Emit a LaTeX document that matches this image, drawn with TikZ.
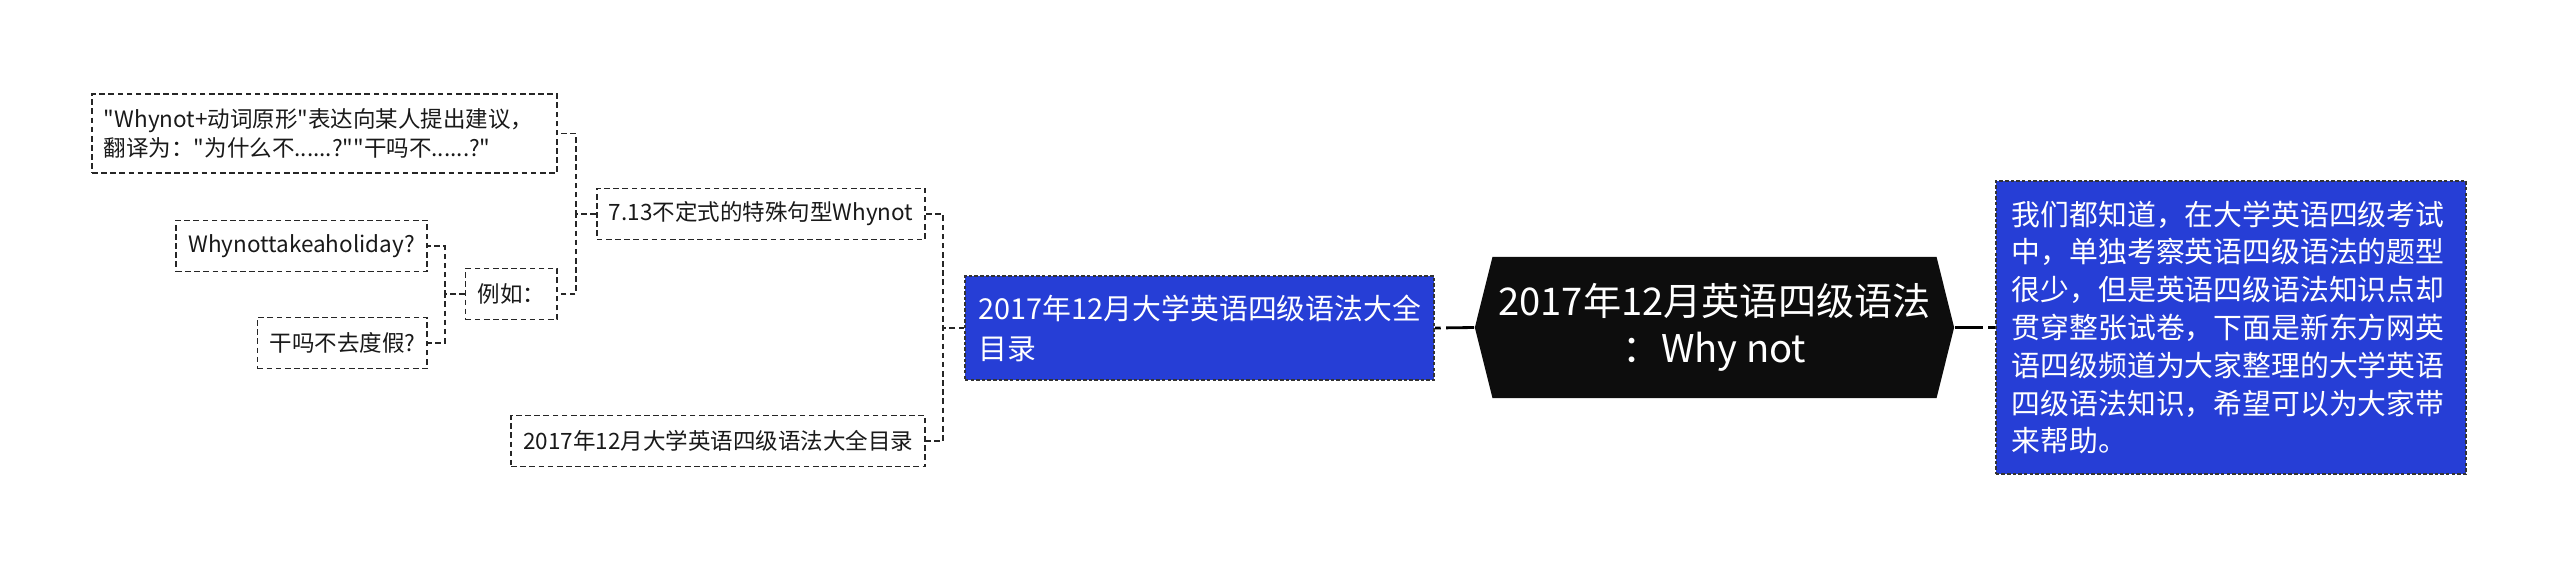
\documentclass[tikz,border=0pt]{standalone}
\usepackage{fontspec}
\newfontfamily\cjk{Noto Sans CJK SC}
\usetikzlibrary{shapes.symbols}
\definecolor{topicblue}{RGB}{38,62,214}
\definecolor{rootblack}{RGB}{13,13,13}

\begin{document}
\begin{tikzpicture}[x=0.01cm, y=-0.01cm,
    leaf/.style={draw=black!85, line width=0.45pt, dash pattern=on 1.6pt off 1pt,
      font=\cjk\fontsize{6.4}{8.25}\selectfont, text=black!90,
      inner xsep=1.2mm, minimum height=5.1mm},
    topic/.style={fill=topicblue, draw=black!80, line width=0.45pt,
      dash pattern=on 1pt off 0.6pt, text=white, align=left},
    link/.style={draw=black!85, line width=0.45pt, dash pattern=on 1.6pt off 1pt},
    mainlink/.style={draw=black, line width=0.8pt, dash pattern=on 8pt off 1.5pt}]
    \useasboundingbox (0,0) rectangle (2560,569);

    % ---------------------------------------------
    % centre topic
    \node[signal, signal to=west and east, signal pointer angle=152,
      fill=rootblack, text=white, align=center, inner sep=0pt,
      minimum width=47.9mm, minimum height=14.1mm,
      font=\cjk\fontsize{10.85}{13.4}\selectfont]
      (root) at (1714.5,327.5) {2017年12月英语四级语法\\：Why not};

    % ---------------------------------------------
    % right: description
    \node[topic, anchor=west, inner xsep=1.6mm, text width=43.8mm,
      minimum height=29.3mm, font=\cjk\fontsize{8.2}{10.75}\selectfont]
      (desc) at (1995,327.5) {我们都知道，在大学英语四级考试\\
      中，单独考察英语四级语法的题型\\
      很少，但是英语四级语法知识点却\\
      贯穿整张试卷，下面是新东方网英\\
      语四级频道为大家整理的大学英语\\
      四级语法知识，希望可以为大家带\\
      来帮助。};
    \draw[mainlink] (root.east) -- (desc.west);

    % ---------------------------------------------
    % left: catalogue
    \node[topic, anchor=east, inner xsep=1.4mm, text width=44.1mm,
      minimum height=10.4mm, font=\cjk\fontsize{8.2}{11.4}\selectfont]
      (topic) at (1435,328) {2017年12月大学英语四级语法大全\\目录};
    \draw[mainlink] (root.west) -- (topic.east);

    \node[leaf, anchor=east, minimum width=32.8mm] (t713) at (926,214)
      {7.13不定式的特殊句型Whynot};
    \node[leaf, anchor=east, minimum width=41.1mm] (toc) at (926,441)
      {2017年12月大学英语四级语法大全目录};
    \draw[link] (topic.west) -- ++(-21,0) |- (t713.east);
    \draw[link] (topic.west) -- ++(-21,0) |- (toc.east);

    % ---------------------------------------------
    % usage and examples
    \node[leaf, anchor=east, text width=44.1mm, align=left,
      minimum height=7.9mm] (usage) at (558,133.5)
      {"Whynot+动词原形"表达向某人提出建议，\\翻译为："为什么不......?""干吗不......?"};
    \node[leaf, anchor=east, minimum width=8.9mm] (eg) at (558,294) {例如：};
    \draw[link] (t713.west) -- ++(-20,0) |- (usage.east);
    \draw[link] (t713.west) -- ++(-20,0) |- (eg.east);

    \node[leaf, anchor=east, minimum width=25.1mm] (ex1) at (428,246)
      {Whynottakeaholiday?};
    \node[leaf, anchor=east, minimum width=16.4mm] (ex2) at (428,343)
      {干吗不去度假?};
    \draw[link] (eg.west) -- ++(-20,0) |- (ex1.east);
    \draw[link] (eg.west) -- ++(-20,0) |- (ex2.east);

  \end{tikzpicture}
\end{document}
